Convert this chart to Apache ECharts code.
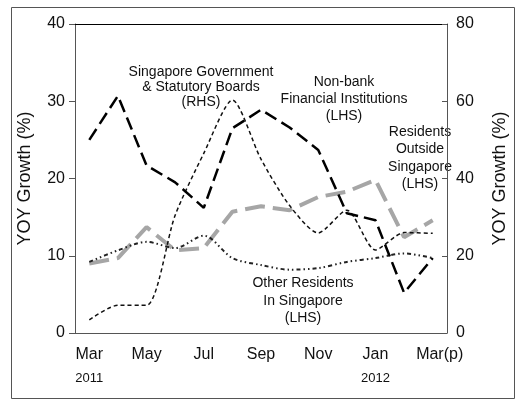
<!DOCTYPE html>
<html>
<head>
<meta charset="utf-8">
<script src="https://cdn.jsdelivr.net/npm/echarts@6/dist/echarts.min.js"></script>
<style>
  html, body { margin: 0; padding: 0; background: #fff; }
  #chart { width: 517px; height: 400px; }
</style>
</head>
<body>
<div id="chart"></div>
<script>
const months = ['Mar', 'Apr', 'May', 'Jun', 'Jul', 'Aug', 'Sep', 'Oct', 'Nov', 'Dec', 'Jan', 'Feb', 'Mar(p)'];
const years = { 0: '2011', 10: '2012' };

// LHS series
const nonBank = [25.0, 30.7, 21.7, 19.5, 16.2, 26.5, 28.9, 26.6, 23.7, 15.5, 14.6, 5.2, 9.7];
const otherResidents = [9.2, 10.7, 11.8, 11.0, 12.6, 9.7, 8.8, 8.2, 8.4, 9.2, 9.7, 10.3, 9.7];
const residentsOutside = [9.0, 9.7, 13.7, 10.7, 11.0, 15.7, 16.4, 15.9, 17.6, 18.3, 19.8, 12.4, 14.6];
// RHS series
const govBoards = [3.4, 7.2, 7.2, 30.5, 46.5, 60.3, 45.0, 33.0, 25.9, 31.8, 21.5, 26.0, 25.8];

const font = '"Liberation Sans", Arial, Helvetica, sans-serif';
const axisGrey = '#555';

const chart = echarts.init(document.getElementById('chart'));

function note(text, x, y, lh) {
  return {
    type: 'text', x: x, y: y, silent: true,
    style: {
      text: text, fill: '#111', font: '14px ' + font,
      align: 'center', verticalAlign: 'middle', lineHeight: lh
    }
  };
}

chart.setOption({
  animation: false,
  textStyle: { fontFamily: font },
  grid: { left: 75, right: 58, top: 24, bottom: 67 },
  xAxis: [{
    type: 'category',
    data: months,
    position: 'bottom',
    axisLine: { lineStyle: { color: axisGrey, width: 1 } },
    axisTick: { alignWithLabel: true, interval: 0, length: 4, lineStyle: { color: axisGrey } },
    axisLabel: {
      interval: 1,
      margin: 11,
      verticalAlign: 'top',
      formatter: function (v, i) {
        let s = v === 'Mar(p)' ? '{p|' + v + '}' : '{m|' + v + '}';
        if (years[i]) s += '\n{y|' + years[i] + '}';
        return s;
      },
      rich: {
        m: { fontSize: 16, lineHeight: 22, color: '#111', fontFamily: font },
        p: { fontSize: 16, lineHeight: 22, color: '#111', fontFamily: font, padding: [0, 0, 0, 14] },
        y: { fontSize: 13, lineHeight: 24, color: '#111', fontFamily: font }
      }
    },
    splitLine: { show: false }
  }, {
    type: 'category',
    data: months,
    position: 'bottom',
    axisLine: { show: false },
    axisTick: { inside: true, alignWithLabel: true, interval: 0, length: 4, lineStyle: { color: axisGrey } },
    axisLabel: { show: false },
    splitLine: { show: false }
  }, {
    type: 'category',
    data: months,
    position: 'top',
    axisLine: { lineStyle: { color: '#000', width: 1 } },
    axisTick: { show: false },
    axisLabel: { show: false },
    splitLine: { show: false }
  }],
  yAxis: [{
    type: 'value',
    min: 0, max: 40, interval: 10,
    position: 'left',
    name: 'YOY Growth (%)',
    nameLocation: 'middle',
    nameRotate: 90,
    nameGap: 41,
    nameTextStyle: { fontSize: 18, color: '#111', fontFamily: font },
    axisLine: { show: true, lineStyle: { color: axisGrey } },
    axisTick: { show: true, length: 6, lineStyle: { color: axisGrey } },
    axisLabel: { fontSize: 16, color: '#111', margin: 10 },
    splitLine: { show: false }
  }, {
    type: 'value',
    min: 0, max: 80, interval: 20,
    position: 'right',
    name: 'YOY Growth (%)',
    nameLocation: 'middle',
    nameRotate: 90,
    nameGap: 44,
    nameTextStyle: { fontSize: 18, color: '#111', fontFamily: font },
    axisLine: { show: true, lineStyle: { color: axisGrey } },
    axisTick: { show: true, inside: true, length: 5, lineStyle: { color: axisGrey } },
    axisLabel: { fontSize: 16, color: '#111', margin: 9 },
    splitLine: { show: false }
  }],
  series: [{
    name: 'Residents Outside Singapore',
    type: 'line',
    data: residentsOutside,
    yAxisIndex: 0,
    symbol: 'none',
    lineStyle: { color: '#a6a6a6', width: 4, type: [20, 8] }
  }, {
    name: 'Singapore Government & Statutory Boards',
    type: 'line',
    data: govBoards,
    yAxisIndex: 1,
    symbol: 'none',
    smooth: 0.25,
    lineStyle: { color: '#111', width: 1.5, type: [4, 3] }
  }, {
    name: 'Other Residents In Singapore',
    type: 'line',
    data: otherResidents,
    yAxisIndex: 0,
    symbol: 'none',
    smooth: 0.3,
    lineStyle: { color: '#222', width: 2, type: [4, 3, 1.5, 3, 1.5, 3] }
  }, {
    name: 'Non-bank Financial Institutions',
    type: 'line',
    data: nonBank,
    yAxisIndex: 0,
    symbol: 'none',
    lineStyle: { color: '#000', width: 2.5, type: [13, 6] }
  }],
  graphic: [
    {
      type: 'rect', silent: true,
      shape: { x: 11.5, y: 7.5, width: 503, height: 391 },
      style: { fill: 'none', stroke: '#555', lineWidth: 1 }
    },
    note('Singapore Government\n& Statutory Boards\n(RHS)', 201, 87, 15),
    note('Non-bank\nFinancial Institutions\n(LHS)', 344, 99, 17),
    note('Residents\nOutside\nSingapore\n(LHS)', 420, 158, 17.5),
    note('Other Residents\nIn Singapore\n(LHS)', 303, 301, 17.5)
  ]
});
</script>
</body>
</html>
